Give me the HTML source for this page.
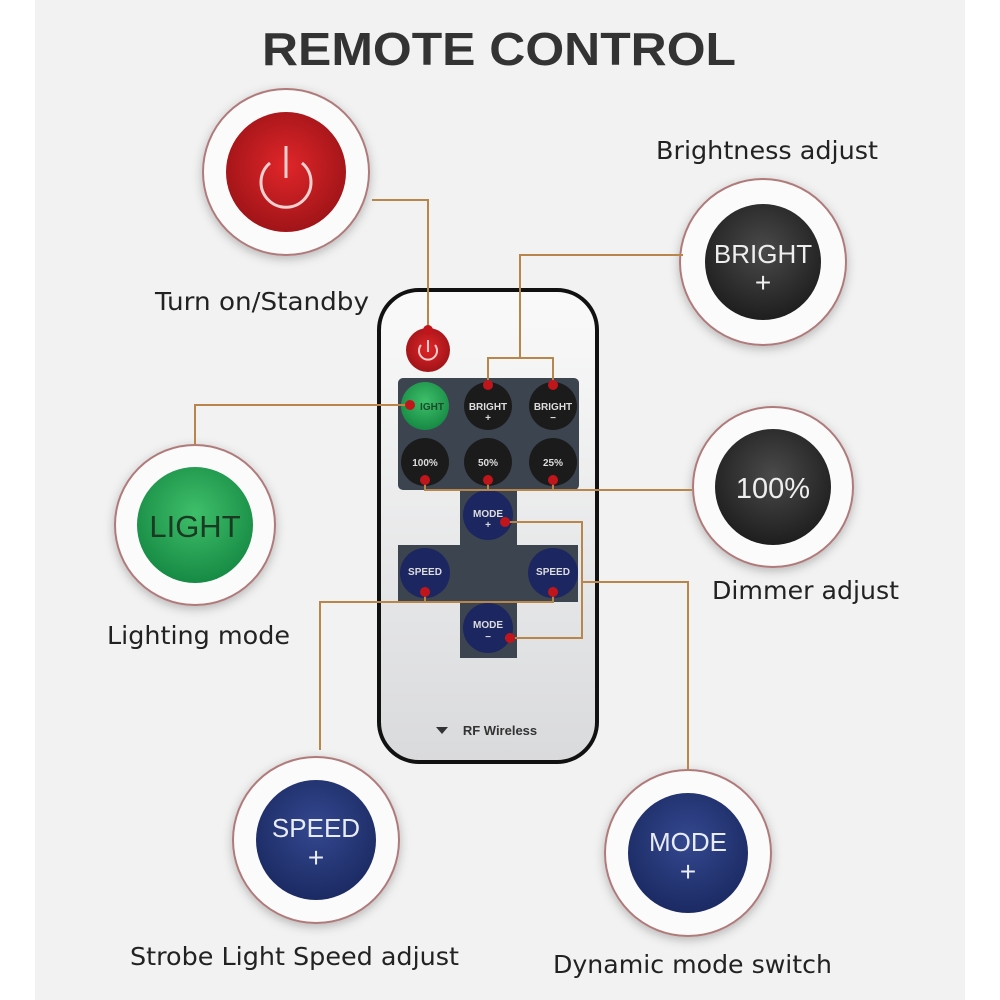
<!DOCTYPE html>
<html><head><meta charset="utf-8"><style>
html,body{margin:0;padding:0;background:#fff;}
svg{display:block}
text{font-family:"Liberation Sans",sans-serif;}
.lb{font-family:"DejaVu Sans","Liberation Sans",sans-serif;}
</style></head><body>
<svg width="1000" height="1000" viewBox="0 0 1000 1000">
<defs>
<radialGradient id="red" cx="50%" cy="45%" r="55%"><stop offset="0" stop-color="#e0262a"/><stop offset="1" stop-color="#a01418"/></radialGradient>
<radialGradient id="blk" cx="50%" cy="40%" r="60%"><stop offset="0" stop-color="#4a4a4a"/><stop offset="1" stop-color="#1e1e1e"/></radialGradient>
<radialGradient id="grn" cx="50%" cy="40%" r="60%"><stop offset="0" stop-color="#3fbf6a"/><stop offset="1" stop-color="#168a44"/></radialGradient>
<radialGradient id="blu" cx="50%" cy="40%" r="60%"><stop offset="0" stop-color="#34488f"/><stop offset="1" stop-color="#1b2a63"/></radialGradient>
<linearGradient id="rem" x1="0" y1="0" x2="0" y2="1"><stop offset="0" stop-color="#fafafa"/><stop offset="1" stop-color="#d9dadc"/></linearGradient>
<filter id="sh" x="-20%" y="-20%" width="140%" height="140%"><feDropShadow dx="0" dy="3" stdDeviation="5" flood-opacity="0.25"/></filter>
</defs>
<rect x="35" y="0" width="930" height="1000" fill="#f2f2f2"/>
<text x="499" y="65" text-anchor="middle" font-size="46" font-weight="bold" fill="#333" textLength="474" lengthAdjust="spacingAndGlyphs">REMOTE CONTROL</text>

<g filter="url(#sh)">
<circle cx="286" cy="172" r="83" fill="#fbfbfb" stroke="#b07a7a" stroke-width="2"/>
<circle cx="763" cy="262" r="83" fill="#fbfbfb" stroke="#b07a7a" stroke-width="2"/>
<circle cx="195" cy="525" r="80" fill="#fbfbfb" stroke="#b07a7a" stroke-width="2"/>
<circle cx="773" cy="487" r="80" fill="#fbfbfb" stroke="#b07a7a" stroke-width="2"/>
<circle cx="316" cy="840" r="83" fill="#fbfbfb" stroke="#b07a7a" stroke-width="2"/>
<circle cx="688" cy="853" r="83" fill="#fbfbfb" stroke="#b07a7a" stroke-width="2"/>
</g>
<circle cx="286" cy="172" r="60" fill="url(#red)"/>
<path d="M270 163A25 25 0 1 0 302 163" fill="none" stroke="#f4d0d0" stroke-width="3"/>
<line x1="286" y1="146" x2="286" y2="178" stroke="#f4d0d0" stroke-width="3"/>
<circle cx="763" cy="262" r="58" fill="url(#blk)"/>
<text x="763" y="263" text-anchor="middle" font-size="26" fill="#eee">BRIGHT</text>
<text x="763" y="292" text-anchor="middle" font-size="28" fill="#eee">+</text>
<circle cx="195" cy="525" r="58" fill="url(#grn)"/>
<text x="195" y="537" text-anchor="middle" font-size="31" fill="#1a3a22">LIGHT</text>
<circle cx="773" cy="487" r="58" fill="url(#blk)"/>
<text x="773" y="498" text-anchor="middle" font-size="29" fill="#eee">100%</text>
<circle cx="316" cy="840" r="60" fill="url(#blu)"/>
<text x="316" y="837" text-anchor="middle" font-size="26" fill="#e8ecf8">SPEED</text>
<text x="316" y="867" text-anchor="middle" font-size="28" fill="#e8ecf8">+</text>
<circle cx="688" cy="853" r="60" fill="url(#blu)"/>
<text x="688" y="851" text-anchor="middle" font-size="26" fill="#e8ecf8">MODE</text>
<text x="688" y="881" text-anchor="middle" font-size="28" fill="#e8ecf8">+</text>

<g font-size="25" fill="#222">
<text class="lb" x="656" y="159" textLength="222" lengthAdjust="spacingAndGlyphs">Brightness adjust</text>
<text class="lb" x="155" y="310" textLength="214" lengthAdjust="spacingAndGlyphs">Turn on/Standby</text>
<text class="lb" x="107" y="644" textLength="183" lengthAdjust="spacingAndGlyphs">Lighting mode</text>
<text class="lb" x="712" y="599" textLength="187" lengthAdjust="spacingAndGlyphs">Dimmer adjust</text>
<text class="lb" x="130" y="965" textLength="329" lengthAdjust="spacingAndGlyphs">Strobe Light Speed adjust</text>
<text class="lb" x="553" y="973" textLength="279" lengthAdjust="spacingAndGlyphs">Dynamic mode switch</text>
</g>

<rect x="379" y="290" width="218" height="472" rx="40" fill="url(#rem)" stroke="#111" stroke-width="4"/>
<circle cx="428" cy="350" r="22" fill="url(#red)"/>
<path d="M421 345A9 9 0 1 0 435 345" fill="none" stroke="#fcc" stroke-width="2"/>
<line x1="428" y1="340" x2="428" y2="352" stroke="#fcc" stroke-width="2"/>
<rect x="398" y="378" width="181" height="112" rx="5" fill="#3c4450"/>
<path d="M460 490H517V545H578V602H517V658H460V602H398V545H460Z" fill="#3c4450"/>
<g fill="#1b1b1b"><circle cx="488" cy="406" r="24"/><circle cx="553" cy="406" r="24"/><circle cx="425" cy="462" r="24"/><circle cx="488" cy="462" r="24"/><circle cx="553" cy="462" r="24"/></g>
<circle cx="425" cy="406" r="24" fill="url(#grn)"/>
<g fill="#1c2660"><circle cx="488" cy="515" r="25"/><circle cx="425" cy="573" r="25"/><circle cx="553" cy="573" r="25"/><circle cx="488" cy="628" r="25"/></g>
<g font-size="10" font-weight="bold" fill="#ddd" text-anchor="middle">
<text x="432" y="410" fill="#1a4a2a">IGHT</text>
<text x="488" y="410">BRIGHT</text><text x="553" y="410">BRIGHT</text>
<text x="488" y="421">+</text><text x="553" y="421">−</text>
<text x="425" y="466">100%</text><text x="488" y="466">50%</text><text x="553" y="466">25%</text>
<text x="488" y="517">MODE</text><text x="488" y="528">+</text>
<text x="425" y="575">SPEED</text><text x="553" y="575">SPEED</text>
<text x="488" y="628">MODE</text><text x="488" y="640">−</text>
</g>
<text x="500" y="735" text-anchor="middle" font-size="13" font-weight="bold" fill="#333">RF Wireless</text>
<path d="M436 727h12l-6 7z" fill="#333"/>

<g fill="none" stroke="#b8864a" stroke-width="2">
<path d="M372 200H428V330"/>
<path d="M683 255H520V358M488 385V358H553V385"/>
<path d="M195 445V405H410"/>
<path d="M692 490H425V480M488 490V480M553 490V480"/>
<path d="M688 770V582H582M505 522H582V638H505"/>
<path d="M320 750V602H553V592M425 602V592"/>
</g>
<g fill="#c0161b"><circle cx="428" cy="330" r="5"/><circle cx="488" cy="385" r="5"/><circle cx="553" cy="385" r="5"/><circle cx="410" cy="405" r="5"/><circle cx="425" cy="480" r="5"/><circle cx="488" cy="480" r="5"/><circle cx="553" cy="480" r="5"/><circle cx="505" cy="522" r="5"/><circle cx="425" cy="592" r="5"/><circle cx="553" cy="592" r="5"/><circle cx="510" cy="638" r="5"/></g>
</svg>
</body></html>
